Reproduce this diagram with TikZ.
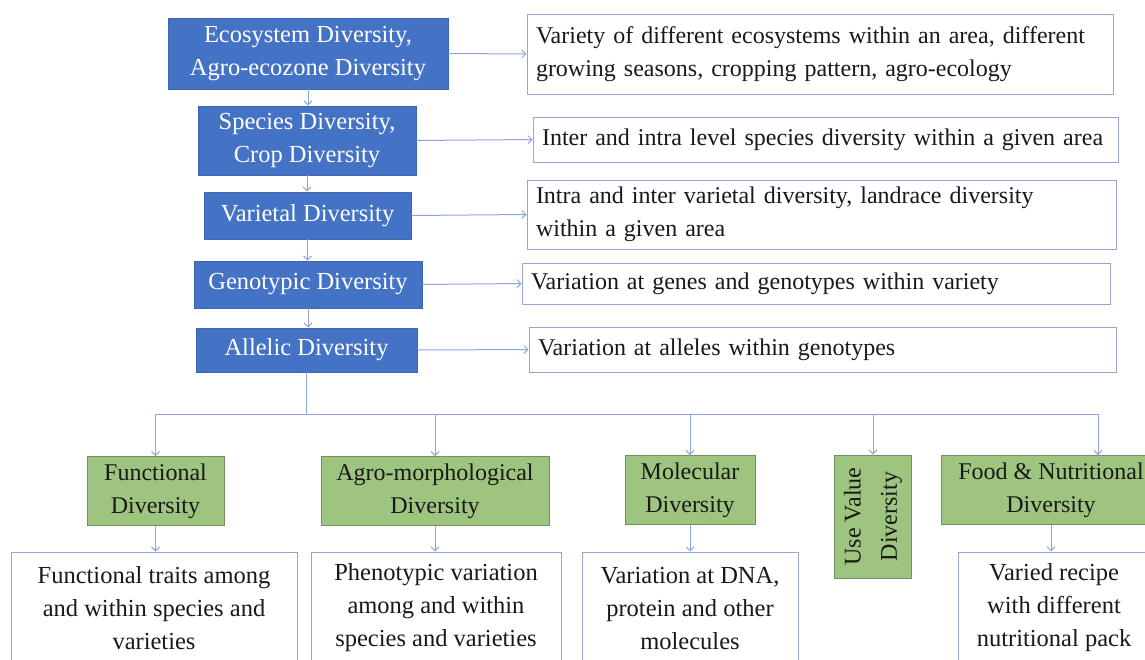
\documentclass[tikz,border=0pt]{standalone}
\usepackage{fontspec}
\setmainfont{Liberation Serif}
\usetikzlibrary{arrows.meta,calc}
\definecolor{bluefill}{RGB}{68,114,196}
\definecolor{blueline}{RGB}{60,100,175}
\definecolor{greenfill}{RGB}{157,197,127}
\definecolor{greenline}{RGB}{115,145,95}
\definecolor{wline}{RGB}{150,165,210}
\definecolor{conn}{RGB}{140,165,220}
\definecolor{txt}{RGB}{25,25,25}
\tikzset{
  x=1pt,y=-1pt,
  bluebox/.style={draw=blueline,fill=bluefill,text=white,align=center,inner sep=0pt,
    font=\fontsize{24.5}{33}\selectfont,line width=0.8pt},
  rbox/.style={draw=wline,fill=white,text=txt,align=left,inner xsep=9pt,inner ysep=0pt,
    font=\fontsize{24}{33}\selectfont,line width=1pt},
  greenbox/.style={draw=greenline,fill=greenfill,text=txt,align=center,inner sep=0pt,
    font=\fontsize{24}{33}\selectfont,line width=0.8pt},
  bbox/.style={draw=wline,fill=white,text=txt,align=center,inner sep=0pt,
    font=\fontsize{24.5}{33}\selectfont,line width=1pt},
  conline/.style={draw=conn,line width=1pt},
  conarrow/.style={conline,-{Straight Barb[length=4pt,width=8pt]}},
}
\begin{document}
\begin{tikzpicture}
\useasboundingbox (0,0) rectangle (1145,659);
% blue boxes
\node[bluebox,minimum width=280,minimum height=71] (B1) at (308,53.5) {Ecosystem Diversity,\\Agro-ecozone Diversity};
\node[bluebox,minimum width=218,minimum height=69] (B2) at (307,140.5) {Species Diversity,\\Crop Diversity};
\node[bluebox,minimum width=207,minimum height=47] (B3) at (307.5,215.5) {Varietal Diversity};
\node[bluebox,minimum width=228,minimum height=47] (B4) at (308,284.5) {Genotypic Diversity};
\node[bluebox,minimum width=221,minimum height=44] (B5) at (306.5,350) {Allelic Diversity};
% right boxes
\node[rbox,text width=568,minimum height=80] (R1) at (820,54) {Variety of different ecosystems within an area, different\\growing seasons, cropping pattern, agro-ecology};
\node[rbox,text width=567,minimum height=45] (R2) at (825.5,139.5) {Inter and intra level species diversity within a given area};
\node[rbox,text width=571,minimum height=69] (R3) at (821.5,214.5) {Intra and inter varietal diversity, landrace diversity\\within a given area};
\node[rbox,text width=570,minimum height=41] (R4) at (816,283.5) {Variation at genes and genotypes within variety};
\node[rbox,text width=569,minimum height=45] (R5) at (822.5,349.5) {Variation at alleles within genotypes};
% green boxes
\node[greenbox,minimum width=137,minimum height=69] (G1) at (155.5,491) {Functional\\Diversity};
\node[greenbox,minimum width=228,minimum height=69] (G2) at (435,491) {Agro-morphological\\Diversity};
\node[greenbox,minimum width=130,minimum height=69] (G3) at (690,490) {Molecular\\Diversity};
\node[greenbox,minimum width=77,minimum height=123] (G4) at (873,516.5) {};
\node[rotate=90,align=center,text=txt,font=\fontsize{24}{36}\selectfont,inner sep=0pt] (G4t) at (G4.center) {Use Value\\Diversity};
\node[greenbox,minimum width=220,minimum height=69] (G5) at (1051,490) {Food \& Nutritional\\Diversity};
% bottom boxes
\node[bbox,minimum width=286,minimum height=112] (W1) at (154,608) {Functional traits among\\and within species and\\varieties};
\node[bbox,minimum width=250,minimum height=112] (W2) at (436,608) {Phenotypic variation\\among and within\\species and varieties};
\node[bbox,minimum width=216,minimum height=112] (W3) at (690,608) {Variation at DNA,\\protein and other\\molecules};
\node[bbox,minimum width=192,minimum height=112] (W5) at (1054,608) {Varied recipe\\with different\\nutritional pack};
% connectors
\foreach \i in {1,...,5} {\draw[conarrow] (B\i.east) -- (R\i.west);}
\draw[conarrow] (B1.south) -- (B1.south |- B2.north);
\draw[conarrow] (B2.south) -- (B2.south |- B3.north);
\draw[conarrow] (B3.south) -- (B3.south |- B4.north);
\draw[conarrow] (B4.south) -- (B4.south |- B5.north);
\coordinate (J) at (306.5,414);
\coordinate (bL) at (155.5,414);
\coordinate (bR) at (1098,414);
\draw[conline] (B5.south) -- (J);
\draw[conline] (bL) -- (bR);
\draw[conarrow] (bL) -- (G1.north);
\draw[conarrow] (G2.north |- J) -- (G2.north);
\draw[conarrow] (G3.north |- J) -- (G3.north);
\draw[conarrow] (G4.north |- J) -- (G4.north);
\draw[conarrow] (bR) -- (bR |- G5.north);
\draw[conarrow] (G1.south) -- (G1.south |- W1.north);
\draw[conarrow] (G2.south) -- (G2.south |- W2.north);
\draw[conarrow] (G3.south) -- (G3.south |- W3.north);
\draw[conarrow] (G5.south) -- (G5.south |- W5.north);
\end{tikzpicture}
\end{document}
